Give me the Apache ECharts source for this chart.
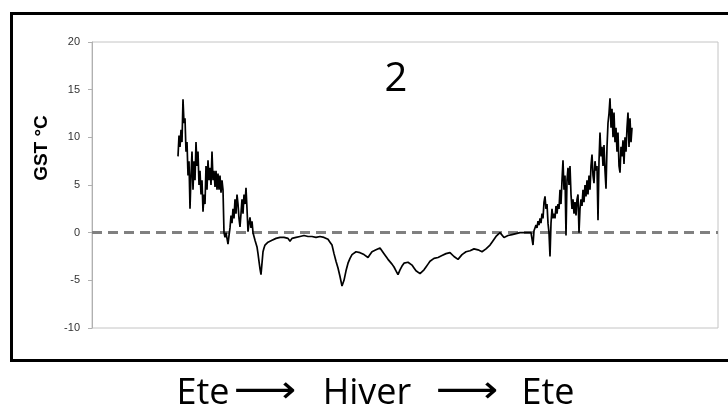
<!DOCTYPE html>
<html>
<head>
<meta charset="utf-8">
<script src="https://cdn.jsdelivr.net/npm/echarts@6/dist/echarts.min.js"></script>
<style>html,body{margin:0;padding:0;background:#fff;}#c{width:728px;height:412px;}</style>
</head>
<body>
<div id="c"></div>
<script>
// Data
const yTicks = [-10, -5, 0, 5, 10, 15, 20];
const dayMax = 313;        // x-axis extent (days)

// Summer 1 (noisy), sampled every half day from day 43
const summer1Start = 43, summer1Step = 0.5;
const summer1 = [
  8.0, 10.2, 9.0, 10.8, 9.5, 14.0, 11.5, 12.0, 8.5, 9.5, 6.0, 7.5, 2.5, 6.0, 8.5, 4.5,
  7.5, 5.5, 9.5, 7.0, 8.5, 5.0, 6.5, 4.0, 5.5, 2.2, 4.0, 3.0, 7.0, 4.5, 7.6, 5.5,
  6.8, 5.0, 8.5, 5.5, 6.5, 4.8, 6.5, 4.5, 6.2, 4.5, 6.0, 4.2, 5.5, 4.5, 0.0, -0.5,
  0.0, -0.6, -1.2, -0.3, 0.5, 1.8, 1.0, 2.5, 1.5, 3.5, 2.0, 4.0, 3.0, 1.5, 0.6, 2.0,
  3.5, 2.0, 4.0, 3.0, 4.7, 2.5, 0.1, 1.0, 1.6, 0.5, 1.2, 0.0, -0.2, -0.8, -1.0, -1.5,
  -2.2, -3.0, -3.8, -4.4, -3.2, -2.0, -1.6, -1.3, -1.2, -1.1, -1.0
];

// Winter (smooth), daily from day 89
const winterStart = 89, winterStep = 1;
const winter = [
  -0.9, -0.8, -0.7, -0.6, -0.6, -0.5, -0.5, -0.5, -0.5, -0.6, -0.9, -0.6, -0.5, -0.5,
  -0.4, -0.4, -0.4, -0.3, -0.3, -0.4, -0.3, -0.4, -0.4, -0.5, -0.5, -0.4, -0.5, -0.5,
  -0.6, -0.7, -1.0, -1.3, -2.2, -3.0, -3.7, -4.6, -5.6, -5.0, -4.0, -3.2, -2.7, -2.3,
  -2.1, -2.0, -2.0, -2.1, -2.2, -2.3, -2.5, -2.6, -2.3, -2.0, -2.0, -1.8, -1.7, -1.6,
  -1.8, -2.2, -2.5, -2.8, -3.0, -3.3, -3.6, -4.0, -4.4, -3.9, -3.5, -3.2, -3.0, -3.1,
  -3.2, -3.4, -3.7, -4.0, -4.2, -4.3, -4.2, -3.9, -3.6, -3.3, -3.0, -2.8, -2.7, -2.6,
  -2.6, -2.5, -2.4, -2.3, -2.2, -2.1, -2.1, -2.2, -2.5, -2.7, -2.8, -2.6, -2.3, -2.2,
  -2.0, -1.9, -1.9, -1.8, -1.7, -1.7, -1.8, -1.9, -2.0, -1.8, -1.7, -1.6, -1.3, -1.0,
  -0.8, -0.4, -0.2, 0.0, -0.1, -0.5, -0.4, -0.3, -0.2, -0.2, -0.1, -0.1, 0.0, 0.0,
  -0.1, 0.0, 0.0, 0.0
];

// Summer 2 (noisy), sampled every half day from day 219
const summer2Start = 219, summer2Step = 0.5;
const summer2 = [
  0.1, 0.0, 0.1, -1.3, 0.2, 0.3, 0.8, 0.5, 1.2, 0.8, 1.5, 1.0, 2.0, 1.5, 3.2, 3.8,
  2.5, 3.0, 1.0, 0.0, -2.5, 1.0, 2.5, 1.5, 2.0, 1.5, 2.8, 2.0, 3.0, 2.5, 4.5, 3.0,
  5.5, 7.6, 4.5, 6.0, -0.3, 5.5, 6.8, 5.0, 7.0, 4.0, 2.5, 3.5, 2.0, 3.2, 1.8, 3.5,
  4.0, 0.0, 2.5, 3.5, 2.8, 4.5, 3.2, 5.0, 3.8, 5.5, 4.0, 6.0, 4.5, 7.0, 8.2, 6.0,
  5.2, 7.5, 6.5, 7.0, 1.3, 7.5, 10.5, 8.0, 9.0, 7.0, 9.2, 6.5, 4.6, 9.0, 11.5, 12.5,
  14.1, 11.0, 13.0, 10.0, 12.6, 9.5, 11.0, 8.5, 10.5, 7.0, 6.3, 9.0, 8.0, 9.7, 7.2,
  10.0, 8.5, 11.0, 12.6, 9.0, 12.0, 9.5, 11.0
];

const panelLabel = '2';
const yName = 'GST °C';
const seasons = ['Ete', 'Hiver', 'Ete'];
const arrow = '⟶';

function toPairs(start, step, vals) { return vals.map((v, i) => [start + i * step, v]); }
const seriesData = [].concat(
  toPairs(summer1Start, summer1Step, summer1),
  toPairs(winterStart, winterStep, winter),
  toPairs(summer2Start, summer2Step, summer2)
);

const chart = echarts.init(document.getElementById('c'));
const txt = (x, y, text, font, extra) => Object.assign({ type: 'text', x: x, y: y, style: { text: text, font: font, fill: '#000', textAlign: 'center', textVerticalAlign: 'middle' } }, extra || {});
chart.setOption({
  animation: false,
  backgroundColor: '#fff',
  grid: { left: 92, right: 10, top: 42, bottom: 84, show: true, borderColor: '#c4c4c4', borderWidth: 1, backgroundColor: 'transparent' },
  xAxis: {
    type: 'value', min: 0, max: dayMax,
    axisLine: { show: false }, axisTick: { show: false }, axisLabel: { show: false }, splitLine: { show: false }
  },
  yAxis: {
    type: 'value', min: yTicks[0], max: yTicks[yTicks.length - 1], interval: 5,
    axisLine: { show: true, lineStyle: { color: '#b0b0b0', width: 1 } },
    axisTick: { show: true, length: 4, lineStyle: { color: '#b0b0b0' } },
    axisLabel: { color: '#333', fontSize: 11, fontFamily: 'Liberation Sans, Arial', margin: 12 },
    splitLine: { show: false }
  },
  series: [{
    type: 'line',
    data: seriesData,
    showSymbol: false,
    symbol: 'none',
    lineStyle: { color: '#000', width: 1.7 },
    z: 3,
    markLine: {
      silent: true,
      symbol: 'none',
      label: { show: false },
      lineStyle: { color: '#808080', width: 3, type: [10, 6] },
      data: [{ yAxis: 0 }],
      z: 2
    }
  }],
  graphic: [
    { type: 'rect', left: 9, top: 11, shape: { width: 740, height: 347 }, style: { fill: 'none', stroke: '#000', lineWidth: 3 }, z: 0, silent: true },
    txt(396, 80, panelLabel, '40px "Open Sans", sans-serif'),
    txt(42, 148, yName, 'bold 19px "Liberation Sans", Arial, sans-serif', { rotation: Math.PI / 2 }),
    txt(203, 394, seasons[0], '36px "Open Sans", sans-serif'),
    txt(265, 392, arrow, '38px "DejaVu Sans", sans-serif', { scaleX: 1.15 }),
    txt(367, 394, seasons[1], '36px "Open Sans", sans-serif'),
    txt(467, 392, arrow, '38px "DejaVu Sans", sans-serif', { scaleX: 1.15 }),
    txt(548, 394, seasons[2], '36px "Open Sans", sans-serif')
  ]
});
</script>
</body>
</html>
